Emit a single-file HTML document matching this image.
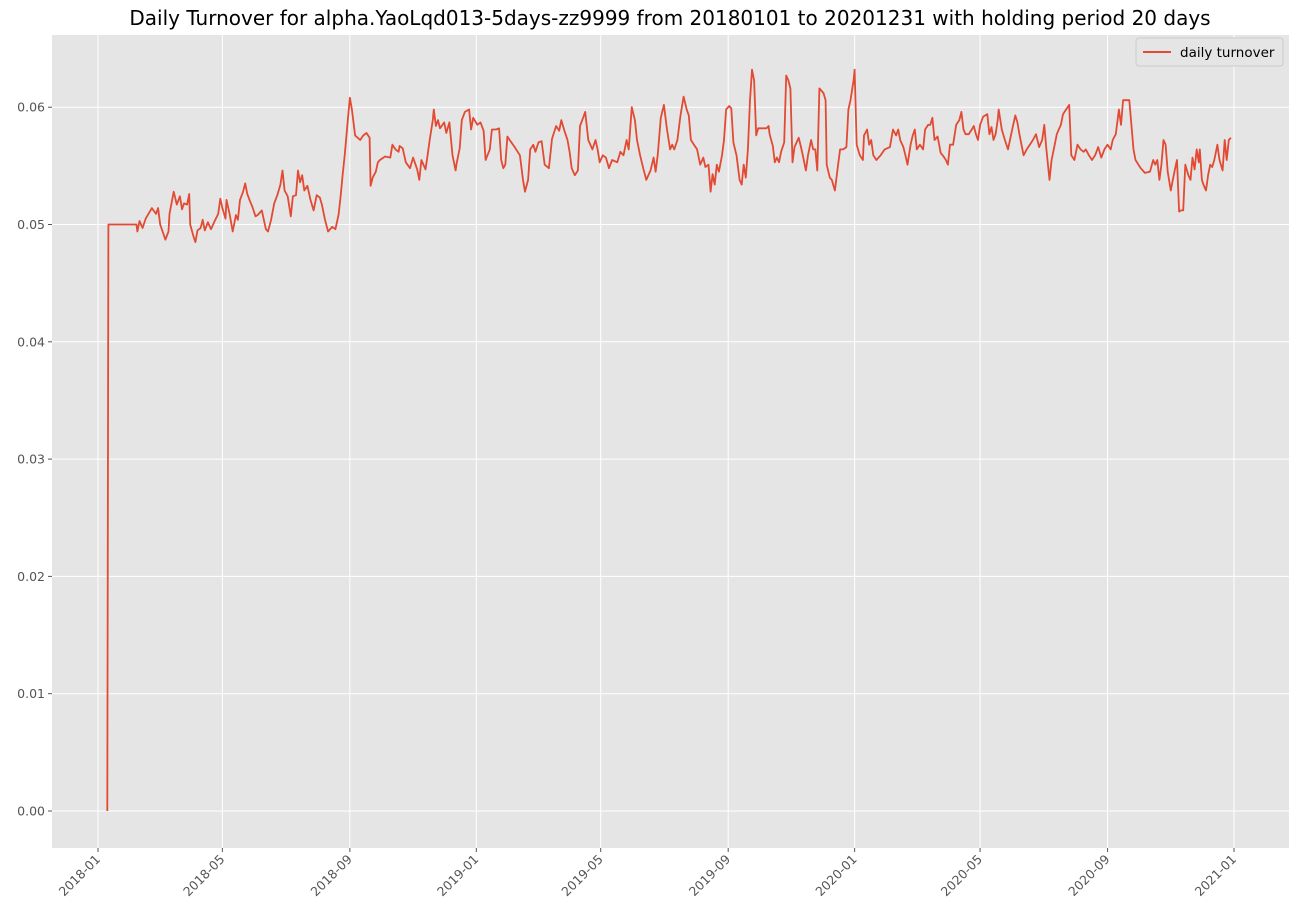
<!DOCTYPE html>
<html><head><meta charset="utf-8"><style>
body{margin:0;background:#fff;font-family:"Liberation Sans","DejaVu Sans",sans-serif;}
svg text{font-family:"DejaVu Sans","Liberation Sans",sans-serif;}
</style></head><body>
<svg id="chart" width="1300" height="919" xmlns="http://www.w3.org/2000/svg">
<text x="670" y="25" text-anchor="middle" font-size="20" fill="#000">Daily Turnover for alpha.YaoLqd013-5days-zz9999 from 20180101 to 20201231 with holding period 20 days</text>
<rect x="52" y="35" width="1237" height="813" fill="#e5e5e5"/>
<g id="grid"></g><g id="axes"></g><g id="series"></g>
<g>
<rect x="1136" y="38" width="147" height="28" rx="3" fill="#e5e5e5" stroke="#ccc"/>
<line x1="1143" y1="52" x2="1171" y2="52" stroke="#e24a33" stroke-width="2"/>
<text x="1180" y="57" font-size="13.5" fill="#000">daily turnover</text>
</g>
</svg>
<script>
// days since 2018-01-01
const days=[9,10,37,38,40,43,46,52,56,58,60,65,68,69,73,76,79,81,83,86,88,89,92,94,96,99,101,103,106,109,112,116,118,120,123,124,127,130,133,135,137,140,142,144,147,149,152,154,158,162,164,167,170,173,176,178,180,183,186,188,191,193,195,197,199,202,205,208,211,214,216,219,222,226,229,232,234,236,238,241,243,245,248,253,256,259,262,263,265,268,270,272,277,282,284,287,290,291,294,297,301,304,308,310,312,316,318,320,323,324,326,328,330,334,336,339,342,345,346,349,351,354,358,360,362,366,369,372,374,378,380,384,387,389,391,393,395,398,402,407,410,412,415,417,420,422,425,428,431,435,438,442,445,447,450,453,455,457,460,463,465,468,470,473,477,480,482,484,487,490,493,496,501,504,507,510,512,515,518,520,523,526,529,533,536,538,540,543,546,549,552,554,556,559,562,565,568,570,572,575,578,581,584,586,589,591,593,595,597,599,602,604,606,609,611,613,616,619,621,623,625,627,629,631,633,635,637,641,645,647,648,651,653,655,657,659,662,664,666,668,670,672,676,678,680,683,685,688,690,692,694,696,700,702,703,706,708,711,714,716,719,722,724,726,729,730,732,735,738,739,742,744,746,748,751,755,759,764,767,770,772,774,777,779,781,784,786,788,790,793,796,798,801,803,805,807,810,813,815,818,820,822,825,828,831,833,835,837,840,843,845,847,849,851,854,858,860,862,864,866,868,869,872,875,878,881,883,885,887,889,893,896,899,902,905,908,911,913,915,918,920,923,925,927,929,931,934,937,939,942,945,948,951,953,956,959,962,965,968,971,974,977,979,982,985,987,989,991,993,995,999,1001,1006,1010,1015,1018,1020,1022,1024,1026,1028,1030,1032,1035,1037,1039,1041,1043,1045,1047,1049,1052,1054,1056,1058,1060,1062,1063,1065,1067,1069,1071,1073,1075,1077,1080,1082,1085,1087,1089,1091,1093,1095,1096];
const turnover=[0,.0500,.0500,.0494,.0503,.0497,.0505,.0514,.0509,.0514,.0500,.0487,.0494,.0509,.0528,.0517,.0524,.0513,.0518,.0517,.0526,.0500,.0490,.0485,.0495,.0497,.0504,.0495,.0502,.0496,.0502,.0509,.0522,.0514,.0505,.0521,.0509,.0494,.0508,.0504,.0521,.0528,.0535,.0526,.0519,.0515,.0507,.0508,.0512,.0496,.0494,.0504,.0518,.0525,.0534,.0546,.0529,.0524,.0507,.0524,.0525,.0546,.0536,.0542,.0529,.0533,.0521,.0512,.0525,.0523,.0517,.0504,.0494,.0498,.0496,.0508,.0523,.0542,.0559,.0589,.0608,.0598,.0576,.0572,.0576,.0578,.0574,.0533,.0540,.0545,.0553,.0555,.0558,.0557,.0568,.0564,.0562,.0567,.0565,.0553,.0548,.0557,.0547,.0538,.0555,.0547,.0559,.0572,.0589,.0598,.0584,.0589,.0582,.0587,.0578,.0587,.0559,.0546,.0552,.0565,.0589,.0596,.0598,.0581,.0591,.0585,.0587,.0580,.0555,.0564,.0581,.0581,.0582,.0555,.0548,.0551,.0575,.0571,.0566,.0559,.0538,.0528,.0538,.0564,.0568,.0562,.0570,.0571,.0551,.0548,.0573,.0584,.0580,.0589,.0580,.0572,.0562,.0548,.0542,.0546,.0584,.0591,.0596,.0572,.0564,.0572,.0564,.0553,.0559,.0557,.0548,.0555,.0553,.0562,.0559,.0572,.0564,.0600,.0589,.0572,.0559,.0548,.0538,.0546,.0557,.0545,.0559,.0591,.0602,.0581,.0564,.0568,.0564,.0572,.0593,.0609,.0598,.0593,.0572,.0568,.0564,.0551,.0557,.0549,.0551,.0528,.0543,.0534,.0551,.0545,.0559,.0572,.0598,.0601,.0599,.0570,.0559,.0538,.0534,.0551,.0540,.0564,.0606,.0632,.0623,.0576,.0582,.0582,.0582,.0584,.0577,.0567,.0553,.0557,.0553,.0562,.0570,.0627,.0623,.0616,.0553,.0566,.0574,.0567,.0559,.0546,.0559,.0572,.0564,.0564,.0546,.0616,.0612,.0606,.0551,.0540,.0538,.0529,.0551,.0564,.0564,.0566,.0598,.0606,.0623,.0632,.0568,.0559,.0555,.0576,.0581,.0568,.0572,.0559,.0555,.0559,.0564,.0566,.0581,.0576,.0581,.0572,.0566,.0559,.0551,.0568,.0576,.0581,.0564,.0568,.0564,.0581,.0585,.0585,.0591,.0572,.0575,.0561,.0559,.0555,.0551,.0568,.0568,.0585,.0589,.0596,.0581,.0577,.0577,.0581,.0584,.0577,.0572,.0585,.0592,.0594,.0577,.0583,.0572,.0577,.0589,.0598,.0581,.0572,.0564,.0577,.0585,.0593,.0587,.0577,.0559,.0564,.0568,.0572,.0577,.0566,.0572,.0585,.0564,.0538,.0555,.0568,.0577,.0581,.0585,.0594,.0598,.0602,.0559,.0555,.0568,.0564,.0562,.0564,.0559,.0555,.0559,.0566,.0557,.0564,.0568,.0564,.0572,.0577,.0598,.0585,.0606,.0606,.0606,.0606,.0564,.0555,.0548,.0544,.0545,.0555,.0551,.0555,.0538,.0551,.0572,.0568,.0545,.0529,.0538,.0547,.0555,.0511,.0512,.0512,.0551,.0542,.0538,.0557,.0547,.0564,.0553,.0564,.0538,.0533,.0529,.0542,.0551,.0549,.0555,.0568,.0555,.0546,.0572,.0555,.0572,.0574];
const yTicks=[0,0.01,0.02,0.03,0.04,0.05,0.06];
const yTickLabels=["0.00","0.01","0.02","0.03","0.04","0.05","0.06"];
const xTickDays=[0,120,243,365,485,608,730,851,974,1096];
const xTickLabels=["2018-01","2018-05","2018-09","2019-01","2019-05","2019-09","2020-01","2020-05","2020-09","2021-01"];

const NS="http://www.w3.org/2000/svg";
const X=d=>98+d*(1136/1096);
const Y=v=>811-v*11730;
const grid=document.getElementById('grid'),axes=document.getElementById('axes'),ser=document.getElementById('series');
function mk(tag,attrs,parent){const e=document.createElementNS(NS,tag);for(const k in attrs)e.setAttribute(k,attrs[k]);parent.appendChild(e);return e;}
yTicks.forEach((t,i)=>{
  const l=mk('line',{x1:52,x2:1289,y1:Y(t),y2:Y(t),stroke:'#fff','stroke-width':1},grid);
  
  
  const tk=mk('line',{x1:48,x2:52,y1:Y(t),y2:Y(t),stroke:'#555'},axes);
  
  
  const tx=mk('text',{x:45,y:Y(t)+4.5,'text-anchor':'end','font-size':12.5,fill:'#555'},axes);
  tx.textContent=yTickLabels[i];
  
  
});
xTickDays.forEach((d,i)=>{
  const x=X(d);
  const l=mk('line',{x1:x,x2:x,y1:35,y2:848,stroke:'#fff','stroke-width':1},grid);
  
  
  const tk=mk('line',{x1:x,x2:x,y1:848,y2:852,stroke:'#555'},axes);
  
  
  const tx=mk('text',{x:x+3,y:860,'text-anchor':'end','font-size':12.5,fill:'#555',transform:`rotate(-45 ${x+3} 860)`},axes);
  tx.textContent=xTickLabels[i];
  
  
});
let dstr='';
days.forEach((d,i)=>{dstr+=(i?'L':'M')+X(d).toFixed(1)+' '+Y(turnover[i]).toFixed(1);});
const p=mk('path',{d:dstr,fill:'none',stroke:'#e24a33','stroke-width':1.8,'stroke-linejoin':'round'},ser);


</script>
</body></html>
